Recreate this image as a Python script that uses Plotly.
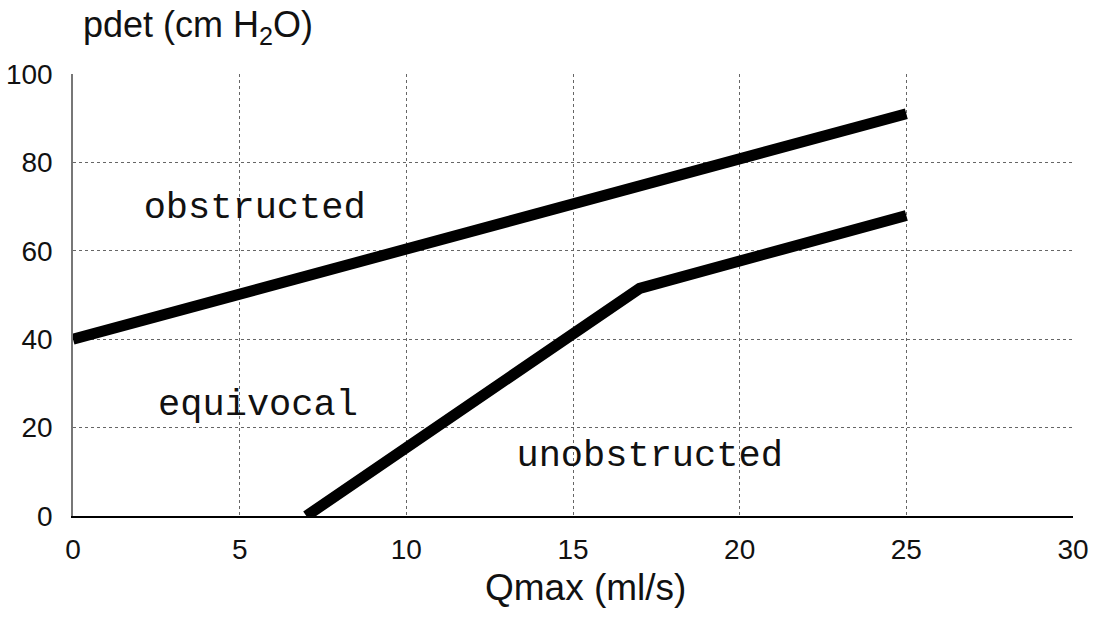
import plotly.graph_objects as go

# ICS-style pressure-flow nomogram boundaries
upper_q = [0, 25]
upper_p = [40, 91]
lower_q = [7, 17, 25]
lower_p = [0, 51.5, 68]

region_labels = ["obstructed", "equivocal", "unobstructed"]
label_q = [5.45, 5.55, 17.3]
label_p = [69.5, 25, 13.5]

x_ticks = [0, 5, 10, 15, 20, 25, 30]
y_ticks = [0, 20, 40, 60, 80, 100]

SANS = "Liberation Sans, Arial, sans-serif"

fig = go.Figure()
for q, p in [(upper_q, upper_p), (lower_q, lower_p)]:
    fig.add_trace(go.Scatter(
        x=q, y=p, mode="lines",
        line=dict(color="black", width=11),
        showlegend=False, hoverinfo="skip",
    ))

fig.add_trace(go.Scatter(
    x=label_q, y=label_p, mode="text", text=region_labels,
    textfont=dict(family="Liberation Mono, Courier New, monospace", size=37, color="#111"),
    showlegend=False, hoverinfo="skip",
))

grid = dict(showgrid=True, gridcolor="#666", gridwidth=1, griddash="dot",
            zeroline=False, automargin=False)

fig.update_xaxes(
    range=[0, 30], tickvals=x_ticks, **grid,
    showline=True, linecolor="black", linewidth=2,
    ticks="outside", ticklen=7, tickcolor="rgba(0,0,0,0)",
    tickfont=dict(family=SANS, size=28, color="#111"),
)
fig.update_yaxes(
    range=[0, 100], tickvals=y_ticks, **grid,
    showline=True, linecolor="#777", linewidth=1.5,
    ticks="outside", ticklen=13, tickcolor="rgba(0,0,0,0)",
    tickfont=dict(family=SANS, size=28, color="#111"),
)

# axis titles
fig.add_annotation(
    text="Qmax (ml/s)", xref="paper", yref="paper",
    x=0.512, y=0, xanchor="center", yanchor="middle", yshift=-71,
    showarrow=False, font=dict(family=SANS, size=37, color="#111"),
)
fig.add_annotation(
    text="pdet (cm H<sub>2</sub>O)", xref="paper", yref="paper",
    x=0, y=1, xanchor="left", yanchor="middle", xshift=8, yshift=47,
    showarrow=False, font=dict(family=SANS, size=36, color="#111"),
)

fig.update_layout(
    width=1099, height=618,
    margin=dict(l=73, r=26, t=74, b=102),
    plot_bgcolor="white", paper_bgcolor="white",
)

fig.write_html("out.html")
